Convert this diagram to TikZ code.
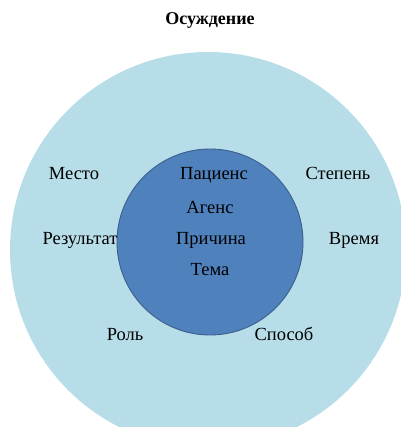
\documentclass[tikz,border=0pt]{standalone}
\usepackage{fontspec}
\setmainfont{Liberation Serif}
\definecolor{sky}{HTML}{B7DEE8}
\definecolor{core}{HTML}{4F81BD}
\definecolor{coreline}{HTML}{3A5F8E}
\tikzset{
  ring/.style={circle, inner sep=0pt, draw=none},
  role/.style={font=\fontsize{18.5}{22}\selectfont, text=black, inner sep=0pt, anchor=base},
  head/.style={role, font=\fontsize{18}{22}\selectfont\bfseries},
}

\begin{document}
\begin{tikzpicture}[x=1pt,y=-1pt]
    \useasboundingbox (0,0) rectangle (401,427);
    \clip (0,0) rectangle (401,427);
    \node[ring, fill=sky, minimum size=396pt] (outer) at (208,250) {};
    \node[ring, fill=core, draw=coreline, line width=0.9pt, minimum size=186pt] (inner) at (210,242) {};
    \node[head] (title) at (210,25) {Осуждение};
    % core roles
    \node[role] (patiens) at (214,180) {Пациенс};
    \node[role] (agens) at (210,213) {Агенс};
    \node[role] (prichina) at (211,244) {Причина};
    \node[role] (tema) at (210,275) {Тема};
    % peripheral roles
    \node[role] (mesto) at (74,180) {Место};
    \node[role] (stepen) at (338,180) {Степень};
    \node[role] (rezultat) at (80,244) {Результат};
    \node[role] (vremya) at (354,244) {Время};
    \node[role] (rol) at (125,340) {Роль};
    \node[role] (sposob) at (284,340) {Способ};
  \end{tikzpicture}
\end{document}
